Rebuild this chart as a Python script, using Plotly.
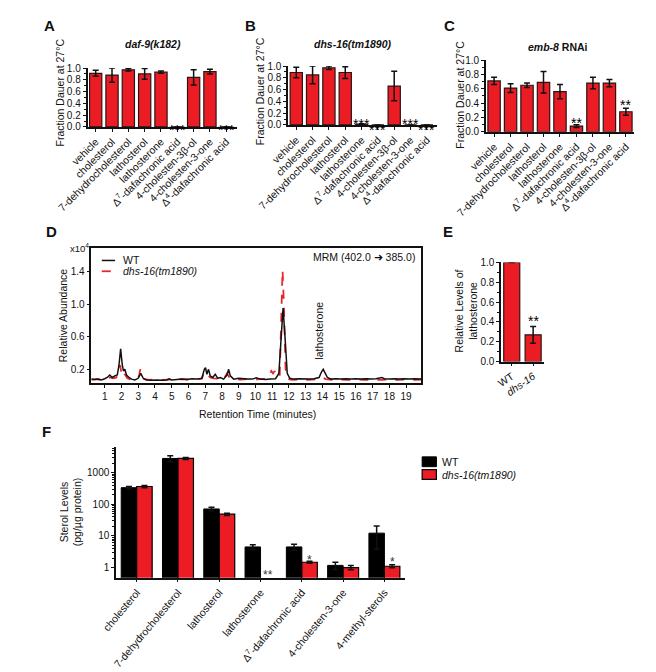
import math
import plotly.graph_objects as go

# The page body has an 8px margin, so the figure is sized to fill the rest of the window
OFF = 8
W, H = 656 - OFF, 672 - OFF
def px(x): return (x - OFF) / W
def py(y): return 1 - (y - OFF) / H

FONT = "Liberation Sans, Arial, sans-serif"
RED = "#EC1C24"
EDGE = "#2A1515"
INK = "#111111"

# ---------------- data ----------------
cats_abc = ["vehicle", "cholesterol", "7-dehydrocholesterol", "lathosterol", "lathosterone",
            "Δ<sup>7</sup>-dafachronic acid", "4-cholesten-3β-ol", "4-cholesten-3-one",
            "Δ<sup>4</sup>-dafachronic acid"]
a_vals = [0.91, 0.88, 0.97, 0.90, 0.93, 0, 0.84, 0.94, 0]
a_err = [0.05, 0.12, 0.02, 0.09, 0.02, None, 0.13, 0.04, None]
b_vals = [0.89, 0.85, 0.97, 0.89, 0.01, 0, 0.66, 0, 0]
b_err = [0.09, 0.15, 0.03, 0.10, 0.01, None, 0.25, None, None]
c_vals = [0.71, 0.61, 0.65, 0.69, 0.56, 0.08, 0.68, 0.68, 0.28]
c_err = [0.05, 0.06, 0.03, 0.15, 0.10, 0.02, 0.08, 0.05, 0.05]
a_stars = [(5, 0.0, "***"), (8, 0.0, "***")]
b_stars = [(4, 0.06, "***"), (5, -0.04, "***"), (7, 0.06, "***"), (8, -0.04, "***")]
c_stars = [(5, 0.17, "**"), (8, 0.41, "**")]

wt_time = [0.2, 0.4, 0.6, 0.8, 1.0, 1.15, 1.3, 1.45, 1.6, 1.75, 1.85, 1.95, 2.05, 2.12, 2.2, 2.3,
           2.45, 2.6, 2.8, 3.0, 3.15, 3.3, 3.5, 3.8, 4.1, 4.4, 4.7, 4.85, 5.0, 5.3, 5.6, 5.9, 6.2,
           6.5, 6.8, 6.95, 7.02, 7.1, 7.2, 7.3, 7.45, 7.6, 7.75, 7.9, 8.1, 8.3, 8.4, 8.5, 8.7, 9.0,
           9.2, 9.5, 9.8, 10.05, 10.3, 10.6, 10.9, 11.2, 11.4, 11.55, 11.65, 11.75, 11.9, 12.05,
           12.3, 12.6, 12.9, 13.2, 13.5, 13.8, 13.95, 14.05, 14.15, 14.3, 14.5, 14.8, 15.1, 15.4,
           15.7, 16.0, 16.3, 16.6, 16.9, 17.2, 17.55, 17.7, 18.0, 18.3, 18.6, 18.9, 19.2, 19.5, 19.9]
wt_signal = [0.08, 0.075, 0.08, 0.07, 0.085, 0.10, 0.13, 0.10, 0.12, 0.13, 0.25, 0.45, 0.25, 0.18,
             0.20, 0.13, 0.10, 0.08, 0.07, 0.09, 0.15, 0.09, 0.07, 0.065, 0.07, 0.065, 0.07, 0.085,
             0.07, 0.075, 0.08, 0.075, 0.085, 0.08, 0.09, 0.20, 0.22, 0.14, 0.20, 0.12, 0.10, 0.14,
             0.09, 0.10, 0.08, 0.13, 0.20, 0.12, 0.08, 0.09, 0.085, 0.08, 0.08, 0.095, 0.08, 0.075,
             0.08, 0.085, 0.15, 0.70, 0.95, 0.65, 0.15, 0.09, 0.08, 0.085, 0.08, 0.08, 0.085, 0.10,
             0.17, 0.20, 0.16, 0.10, 0.08, 0.085, 0.08, 0.085, 0.08, 0.085, 0.08, 0.085, 0.08,
             0.085, 0.10, 0.085, 0.08, 0.085, 0.08, 0.085, 0.08, 0.085, 0.08]
mut_time = [0.2, 0.5, 0.8, 1.1, 1.3, 1.5, 1.7, 1.85, 1.92, 2.0, 2.1, 2.2, 2.35, 2.6, 2.9, 3.05,
            3.12, 3.2, 3.35, 3.7, 4.0, 4.4, 4.8, 5.2, 5.6, 6.0, 6.4, 6.8, 6.95, 7.05, 7.15, 7.3,
            7.5, 7.8, 8.1, 8.3, 8.45, 8.7, 9.1, 9.5, 9.9, 10.3, 10.7, 10.95, 11.05, 11.15, 11.3,
            11.45, 11.55, 11.62, 11.7, 11.8, 11.95, 12.2, 12.6, 13.0, 13.4, 13.8, 14.0, 14.2, 14.6,
            15.0, 15.5, 16.0, 16.5, 17.0, 17.5, 18.0, 18.5, 19.0, 19.5, 19.9]
mut_signal = [0.07, 0.08, 0.07, 0.09, 0.10, 0.09, 0.10, 0.20, 0.25, 0.15, 0.10, 0.14, 0.09, 0.07,
              0.08, 0.12, 0.20, 0.15, 0.08, 0.07, 0.075, 0.07, 0.075, 0.07, 0.08, 0.075, 0.08,
              0.085, 0.17, 0.15, 0.12, 0.10, 0.09, 0.085, 0.08, 0.15, 0.10, 0.08, 0.075, 0.08,
              0.075, 0.08, 0.085, 0.18, 0.15, 0.18, 0.10, 0.12, 0.90, 1.42, 1.00, 0.20, 0.08, 0.07,
              0.075, 0.07, 0.075, 0.08, 0.10, 0.08, 0.07, 0.075, 0.07, 0.075, 0.07, 0.075, 0.07,
              0.075, 0.07, 0.075, 0.07, 0.075]

e_cats = ["WT", "<i>dhs-16</i>"]
e_vals = [1.0, 0.27]
e_err = [None, 0.085]
e_stars = [(1, 0.44, "**")]

f_cats = ["cholesterol", "7-dehydrocholesterol", "lathosterol", "lathosterone",
          "Δ<sup>7</sup>-dafachronic acid", "4-cholesten-3-one", "4-methyl-sterols"]
f_wt = [340, 2870, 72, 4.5, 4.5, 1.17, 12.3]
f_wt_err = [30, 600, 9, 0.8, 1.0, 0.3, 8.5]
f_mut = [370, 2870, 49, 0, 1.47, 1.0, 1.1]
f_mut_err = [30, 200, 4, None, 0.1, 0.15, 0.12]
f_stars = [(3, 0.72, "**"), (4, 2.1, "*"), (6, 1.8, "*")]

# ---------------- layout boxes (pixels: left, right, bottom, top) ----------------
BOX = {
    "A": (58, 215, 123, 63), "B": (269, 426, 121, 61), "C": (477, 633, 128, 55),
    "D": (62, 409, 384, 246), "E": (493, 538, 362, 261), "F": (88, 392, 582, 449),
}
def xdom(k): return [px(BOX[k][0]), px(BOX[k][1])]
def ydom(k): return [py(BOX[k][2]), py(BOX[k][3])]

# ---------------- figure ----------------
fig = go.Figure()

def bar_trace(xa, ya, cats, vals, errs, color=RED):
    return go.Bar(x=cats, y=vals, xaxis=xa, yaxis=ya, showlegend=False,
                  marker=dict(color=color, line=dict(color=EDGE, width=1.2)),
                  error_y=dict(type="data", array=errs, visible=True, color=INK,
                               thickness=1.5, width=3))

fig.add_trace(bar_trace("x", "y", cats_abc, a_vals, a_err))
fig.add_trace(bar_trace("x2", "y2", cats_abc, b_vals, b_err))
fig.add_trace(bar_trace("x3", "y3", cats_abc, c_vals, c_err))

fig.add_trace(go.Scatter(x=mut_time, y=mut_signal, xaxis="x4", yaxis="y4", mode="lines",
                         line=dict(color="#E8262D", width=1.8, dash="dash"), showlegend=False))
fig.add_trace(go.Scatter(x=wt_time, y=wt_signal, xaxis="x4", yaxis="y4", mode="lines",
                         line=dict(color=INK, width=1.5), showlegend=False))

fig.add_trace(bar_trace("x5", "y5", e_cats, e_vals, e_err))

fig.add_trace(go.Bar(x=f_cats, y=f_wt, xaxis="x6", yaxis="y6", showlegend=False, name="WT",
                     marker=dict(color="#000000", line=dict(color="#000000", width=1)),
                     error_y=dict(type="data", array=f_wt_err, color=INK, thickness=1.5, width=3)))
fig.add_trace(go.Bar(x=f_cats, y=[v if v > 0 else None for v in f_mut], xaxis="x6", yaxis="y6",
                     showlegend=False, name="dhs-16(tm1890)",
                     marker=dict(color=RED, line=dict(color="#000000", width=1.2)),
                     error_y=dict(type="data", array=f_mut_err, color=INK, thickness=1.5, width=3)))

tickfont = dict(family=FONT, size=10, color=INK)
catfont = dict(family=FONT, size=10.5, color=INK)
base = dict(showline=True, linecolor=INK, linewidth=1.5, ticks="outside", ticklen=3,
            tickcolor=INK, tickwidth=1.2, tickfont=tickfont, showgrid=False, zeroline=False,
            fixedrange=True)

def frac_y(k, anchor):
    return dict(base, domain=ydom(k), anchor=anchor, range=[0, 1.0],
                tickvals=[0, 0.2, 0.4, 0.6, 0.8, 1.0], tickformat=".1f",
                minor=dict(tickvals=[0.1, 0.3, 0.5, 0.7, 0.9], ticks="outside", ticklen=2,
                           tickcolor=INK))

fig.update_layout(
    width=W, height=H, margin=dict(l=0, r=0, t=0, b=0), autosize=False,
    paper_bgcolor="white", plot_bgcolor="white",
    font=dict(family=FONT, color=INK),
    barmode="group", bargap=0.25, bargroupgap=0,
    xaxis=dict(base, domain=xdom("A"), anchor="y", tickangle=-45, tickfont=catfont),
    yaxis=frac_y("A", "x"),
    xaxis2=dict(base, domain=xdom("B"), anchor="y2", tickangle=-45, tickfont=catfont),
    yaxis2=frac_y("B", "x2"),
    xaxis3=dict(base, domain=xdom("C"), anchor="y3", tickangle=-45, tickfont=catfont),
    yaxis3=frac_y("C", "x3"),
    xaxis4=dict(base, domain=xdom("D"), anchor="y4", range=[0.2, 19.9], tick0=1, dtick=1,
                mirror=True),
    yaxis4=dict(base, domain=ydom("D"), anchor="x4", range=[0.03, 1.69],
                tickvals=[0.2, 0.6, 1.0, 1.4], ticktext=["0.2", "0.6", "1.0", "1.4"], mirror=True),
    xaxis5=dict(base, domain=xdom("E"), anchor="y5", tickangle=-35, tickfont=catfont),
    yaxis5=frac_y("E", "x5"),
    xaxis6=dict(base, domain=xdom("F"), anchor="y6", tickangle=-50, tickfont=catfont),
    yaxis6=dict(base, domain=ydom("F"), anchor="x6", type="log", range=[-0.32, 3.82],
                tickvals=[1, 10, 100, 1000], ticktext=["1", "10", "100", "1000"],
                minor=dict(ticks="outside", ticklen=2, tickcolor=INK,
                           tickvals=[2, 3, 4, 5, 6, 7, 8, 9, 20, 30, 40, 50, 60, 70, 80, 90,
                                     200, 300, 400, 500, 600, 700, 800, 900, 2000, 3000, 4000,
                                     5000, 6000])),
)

ann = []
def A(x, y, text, size=11, xanchor="center", **kw):
    d = dict(x=px(x), y=py(y), xref="paper", yref="paper", text=text, showarrow=False,
             xanchor=xanchor, yanchor="middle", font=dict(family=FONT, size=size, color=INK))
    d.update(kw)
    ann.append(d)

# panel letters
for lx, ly, t in [(18, 20, "A"), (229, 20, "B"), (439, 20, "C"), (20, 230, "D"), (437, 230, "E"),
                  (15, 433, "F")]:
    A(lx, ly, "<b>%s</b>" % t, size=15)

# titles
A(127, 39, "<b><i>daf-9(k182)</i></b>", size=10.5)
A(337, 39, "<b><i>dhs-16(tm1890)</i></b>", size=10.5)
A(553, 42, "<b><i>emb-8</i> RNAi</b>", size=10.5)

# axis titles
for x, y in [(29, 88), (239, 87), (449, 90)]:
    A(x, y, "Fraction Dauer at 27°C", size=10.5, textangle=-90)
A(33, 315, "Relative Abundance", size=10.5, textangle=-90)
A(237, 415, "Retention Time (minutes)", size=10.5)
A(50, 246, "x10<sup>4</sup>", size=9.5)
A(456, 310, "Relative Levels of<br>lathosterone", size=10.5, textangle=-90)
A(40, 515, "Sterol Levels<br>(pg/µg protein)", size=10.5, textangle=-90)

# D legend / labels
A(93, 259, "WT", size=10.5, xanchor="left")
A(93, 270, "<i>dhs-16(tm1890)</i>", size=10.5, xanchor="left")
A(405, 255, "MRM (402.0 ➜ 385.0)", size=10.5, xanchor="right")
A(302, 330, "lathosterone", size=10.5, textangle=-90)

# F legend
A(429, 464, "WT", size=10.5, xanchor="left")
A(429, 477, "<i>dhs-16(tm1890)</i>", size=10.5, xanchor="left")

# significance stars (vertical position converted from the 0-1 data scale of each panel)
def star(k, xa, xv, yv, s, size):
    bottom, top = BOX[k][2], BOX[k][3]
    ypix = bottom - yv * (bottom - top)
    ann.append(dict(x=xv, y=py(ypix), xref=xa, yref="paper", text=s, showarrow=False,
                    xanchor="center", yanchor="middle", yshift=-3,
                    font=dict(family=FONT, size=size, color="#000000")))

for k, xa, stars in [("A", "x", a_stars), ("B", "x2", b_stars), ("C", "x3", c_stars),
                     ("E", "x5", e_stars)]:
    for i, yv, s in stars:
        star(k, xa, i, yv, s, 14)
for i, yv, s in f_stars:
    ann.append(dict(x=i + 0.19, y=math.log10(yv), xref="x6", yref="y6", text=s, showarrow=False,
                    xanchor="center", yanchor="middle", yshift=-3,
                    font=dict(family=FONT, size=12, color="#333333")))

fig.update_layout(annotations=ann)

shapes = [
    dict(type="line", xref="paper", yref="paper", x0=px(73), x1=px(87), y0=py(259), y1=py(259),
         line=dict(color=INK, width=1.5)),
    dict(type="line", xref="paper", yref="paper", x0=px(73), x1=px(87), y0=py(270), y1=py(270),
         line=dict(color="#E8262D", width=1.8, dash="dash")),
    dict(type="rect", xref="paper", yref="paper", x0=px(410), x1=px(425), y0=py(469), y1=py(459),
         fillcolor="#000000", line=dict(color="#000000", width=1)),
    dict(type="rect", xref="paper", yref="paper", x0=px(410), x1=px(425), y0=py(482), y1=py(472),
         fillcolor=RED, line=dict(color="#000000", width=1.2)),
]
fig.update_layout(shapes=shapes)

fig.write_html("out.html")
